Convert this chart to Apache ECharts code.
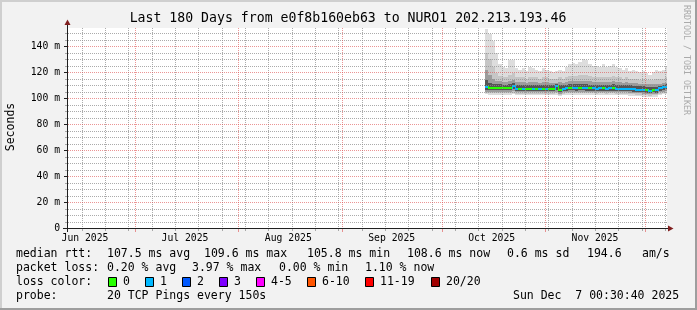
<!DOCTYPE html>
<html><head><meta charset="utf-8">
<script src="https://cdn.jsdelivr.net/npm/echarts@6/dist/echarts.min.js"></script>
<style>html,body{margin:0;padding:0;background:#f2f2f2}#c{width:697px;height:310px}</style>
</head><body><div id="c"></div><script>
// x values are days since 2025-06-01 (local time)
const X_MIN = 9.6, X_MAX = 189.6;
const Y_MIN = 0, Y_MAX = 154;
const monthStarts = [30, 61, 92, 122, 153, 183];
const monthLabelPos = [15, 45, 76, 107, 137, 168];
const monthLabels = ['Jun 2025', 'Jul 2025', 'Aug 2025', 'Sep 2025', 'Oct 2025', 'Nov 2025'];
const weekStarts = [14, 21, 28, 35, 42, 49, 56, 63, 70, 77, 84, 91, 98, 105, 112, 119, 126, 133, 140, 147, 154, 161, 168, 175, 182, 189];
const yMajorTicks = [0, 20, 40, 60, 80, 100, 120, 140];
const yMinorTicks = [5, 10, 15, 25, 30, 35, 45, 50, 55, 65, 70, 75, 85, 90, 95, 105, 110, 115, 125, 130, 135, 145, 150];

// daily data (ms)
const days = [135,136,137,138,139,140,141,142,143,144,145,146,147,148,149,150,151,152,153,154,155,156,157,158,159,160,161,162,163,164,165,166,167,168,169,170,171,172,173,174,175,176,177,178,179,180,181,182,183,184,185,186,187,188,189];
const pingMax = [153,149,144,135,126,124,123,129,129,123,122,123,121,124,123,122,121,123,122,121,120,121,122,121,124,126,127,126,128,130,129,126,125,125,124,126,124,125,126,124,123,122,123,121,122,121,120,121,119,118,120,122,121,122,124];
const pingHi2 = [135,130,124,119,117,116,116,118,119,116,116,116,115,116,116,116,115,116,116,115,115,115,116,115,116,117,117,117,118,118,118,117,116,116,116,116,116,116,117,116,116,115,116,115,115,115,114,115,114,114,114,115,115,115,116];
const pingHi3 = [122,118,115,113.5,113,112.5,112.5,113.5,114,112.5,112.5,112.5,112,112.5,112.5,112.5,112,112.5,112.5,112,112,112,112.5,112,112.5,113,113,113,113.5,113.5,113.5,113,112.5,112.5,112.5,112.5,112.5,112.5,113,112.5,112.5,112,112.5,112,112,111.5,111,111,110.5,110.5,110.5,111,111,111.5,112];
const pingHi4 = [114,112,111,110.5,110.5,110.3,110.3,111,112,110.3,110.3,110.3,110,110.3,110.3,110.3,110,110.3,110.3,110,110,110.5,110,110,110.3,110.5,110.5,110.5,110.5,110.5,110.5,110.3,110.3,110.3,110.3,110.3,110.3,110.3,110.5,110.3,110.3,110,110,110,109.5,109.3,109,109,108.5,108.3,108.5,108.5,109.3,110.3,111];
const median = [108.2,108,107.9,107.8,107.8,107.8,107.8,107.8,109.5,107.4,107.3,107.4,107.3,107.4,107.3,107.4,107.3,107.4,107.3,107.4,107.3,109,106.3,107.4,107.5,107.6,107.6,107.5,107.6,107.6,107.5,107.5,107.5,107.4,107.5,107.5,107.4,107.5,107.5,107.4,107.4,107.3,107.3,107,106.8,106.6,106.5,106.3,106,105.8,106.3,106,107.5,108.2,108.6];
const pingLo4 = [106.3,106.2,106.1,106,106,106,106,106,107,105.7,105.6,105.7,105.6,105.7,105.6,105.7,105.6,105.7,105.6,105.7,105.6,106.5,104.8,105.7,105.8,105.9,105.9,105.8,105.9,105.9,105.8,105.8,105.8,105.7,105.8,105.8,105.7,105.8,105.8,105.7,105.7,105.6,105.6,105.3,105.1,104.9,104.8,104.6,104.3,104.1,104.6,104.3,105.6,106.3,106.8];
const pingLo3 = [105,104.9,104.8,104.8,104.8,104.8,104.8,104.8,105.5,104.5,104.4,104.5,104.4,104.5,104.4,104.5,104.4,104.5,104.4,104.5,104.4,105,103.5,104.5,104.6,104.7,104.7,104.6,104.7,104.7,104.6,104.6,104.6,104.5,104.6,104.6,104.5,104.6,104.6,104.5,104.5,104.4,104.4,104.1,103.9,103.7,103.6,103.4,103.1,102.9,103.4,103.1,104.4,105,105.5];
const pingLo2 = [104,103.9,103.8,103.8,103.8,103.8,103.8,103.8,104.3,103.5,103.4,103.5,103.4,103.5,103.4,103.5,103.4,103.5,103.4,103.5,103.4,103.8,102.6,103.5,103.6,103.7,103.7,103.6,103.7,103.7,103.6,103.6,103.6,103.5,103.6,103.6,103.5,103.6,103.6,103.5,103.5,103.4,103.4,103.1,102.9,102.7,102.6,102.4,102.1,101.9,102.4,102.1,103.4,104,104.5];
const pingMin = [102.8,102.7,102.6,102.6,102.6,102.6,102.6,102.6,103,102.3,102.2,102.3,102.2,102.3,102.2,102.3,102.2,102.3,102.2,102.3,102.2,102.5,101.5,102.3,102.4,102.5,102.5,102.4,102.5,102.5,102.4,102.4,102.4,102.3,102.4,102.4,102.3,102.4,102.4,102.3,102.3,102.2,102.2,101.9,101.7,101.5,101.4,101.2,100.9,100.7,101.2,100.9,102.2,102.8,103.3];
const lossClass = [1,0,0,0,0,0,0,0,1,1,0,1,0,0,1,0,1,0,1,0,0,1,0,1,1,0,1,1,0,1,1,0,1,1,1,0,1,1,0,1,1,1,1,1,1,1,1,1,0,1,0,1,1,1,1];

const lossColors = ['#26ff00', '#00b8ff', '#0059ff', '#7e00ff', '#ff00ff', '#ff5500', '#ff0000', '#a10000'];
const lossLabels = ['0', '1', '2', '3', '4-5', '6-10', '11-19', '20/20'];
const smokeColors = ['#dddddd', '#c6c6c6', '#9c9c9c', '#555555'];

const smokeData = days.map((d, i) => [d, pingMax[i], pingMin[i], pingHi2[i], pingLo2[i], pingHi3[i], pingLo3[i], pingHi4[i], pingLo4[i]]);
const medData = days.map((d, i) => [d, median[i], i > 0 ? median[i - 1] : median[i], lossClass[i]]);

const MONO = 'DejaVu Sans Mono';
const GRID_C = 'rgba(143,143,143,0.75)';
const MGRID_C = 'rgba(222,79,79,0.6)';

function smokeItem(params, api) {
  const d = api.value(0);
  const x0 = Math.round(api.coord([d, 0])[0]);
  const x1 = Math.round(api.coord([d + 1, 0])[0]);
  const ch = [];
  for (let b = 0; b < 4; b++) {
    const yt = Math.round(api.coord([d, api.value(1 + 2 * b)])[1]);
    const yb = Math.round(api.coord([d, api.value(2 + 2 * b)])[1]);
    ch.push({ type: 'rect', shape: { x: x0, y: yt, width: x1 - x0, height: Math.max(1, yb - yt) }, style: { fill: smokeColors[b] } });
  }
  return { type: 'group', children: ch };
}
function medItem(params, api) {
  const d = api.value(0);
  const x0 = Math.round(api.coord([d, 0])[0]);
  const x1 = Math.round(api.coord([d + 1, 0])[0]);
  const y = Math.round(api.coord([d, api.value(1)])[1]);
  const yp = Math.round(api.coord([d, api.value(2)])[1]);
  const col = lossColors[api.value(3)];
  const ch = [{ type: 'rect', shape: { x: x0, y: y - 1, width: x1 - x0, height: 2 }, style: { fill: col } }];
  if (yp !== y) {
    ch.push({ type: 'rect', shape: { x: x0, y: Math.min(y, yp) - 1, width: 1, height: Math.abs(y - yp) + 2 }, style: { fill: col } });
  }
  return { type: 'group', children: ch };
}
// dotted grid lines drawn as 1px pixel dots (crisp)
function vLine(color, tickLen) {
  return function (params, api) {
    const cs = params.coordSys;
    const X = Math.round(api.coord([api.value(0), 0])[0]);
    const top = Math.round(cs.y), bottom = Math.round(cs.y + cs.height);
    const ch = [];
    for (let y = top; y < bottom; y += 2) ch.push({ type: 'rect', shape: { x: X, y: y, width: 1, height: 1 }, style: { fill: color } });
    ch.push({ type: 'rect', shape: { x: X, y: bottom + 1, width: 1, height: tickLen }, style: { fill: color } });
    return { type: 'group', children: ch };
  };
}
function hLine(color, tickColor, tickLen) {
  return function (params, api) {
    const cs = params.coordSys;
    const v = api.value(1);
    const Y = Math.round(api.coord([X_MIN, v])[1]);
    const left = Math.round(cs.x), right = Math.round(cs.x + cs.width);
    const ch = [{ type: 'rect', shape: { x: left - tickLen, y: Y, width: tickLen, height: 1 }, style: { fill: tickColor } }];
    if (v > 0) for (let x = left + 1; x < right; x += 2) ch.push({ type: 'rect', shape: { x: x, y: Y, width: 1, height: 1 }, style: { fill: color } });
    return { type: 'group', children: ch };
  };
}

const TXT = '11.5px "DejaVu Sans Mono"';
const legendRows = [
  { y: 254, items: [[16, 'median rtt:'], [107, '107.5 ms avg'], [204, '109.6 ms max'], [307, '105.8 ms min'], [407, '108.6 ms now'], [507, '0.6 ms sd'], [587, '194.6'], [642, 'am/s']] },
  { y: 268, items: [[16, 'packet loss:'], [107, '0.20 % avg'], [192, '3.97 % max'], [279, '0.00 % min'], [365, '1.10 % now']] },
  { y: 296, items: [[16, 'probe:'], [107, '20 TCP Pings every 150s'], [513, 'Sun Dec  7 00:30:40 2025']] }
];
const lossBoxX = [108, 145, 182, 219, 256, 307, 365, 431];

const graphics = [
  { type: 'rect', shape: { x: 0, y: 0, width: 697, height: 2 }, style: { fill: '#cfcfcf' }, silent: true },
  { type: 'rect', shape: { x: 0, y: 0, width: 2, height: 310 }, style: { fill: '#cfcfcf' }, silent: true },
  { type: 'rect', shape: { x: 0, y: 308, width: 697, height: 2 }, style: { fill: '#9e9e9e' }, silent: true },
  { type: 'rect', shape: { x: 695, y: 0, width: 2, height: 310 }, style: { fill: '#9e9e9e' }, silent: true },
  { type: 'text', x: 348, y: 19, style: { text: 'Last 180 Days from e0f8b160eb63 to NURO1 202.213.193.46', font: '13.2px "DejaVu Sans Mono"', fill: '#000', align: 'center', verticalAlign: 'middle' } },
  { type: 'text', x: 686, y: 60, rotation: -Math.PI / 2, style: { text: 'RRDTOOL / TOBI OETIKER', font: '8.3px "DejaVu Sans Mono"', fill: '#aaaaaa', align: 'center', verticalAlign: 'middle' } },
  { type: 'text', x: 11, y: 127, rotation: Math.PI / 2, style: { text: 'Seconds', font: TXT, fill: '#000', align: 'center', verticalAlign: 'middle' } },
  // axis lines and arrows
  { type: 'rect', z: 10, shape: { x: 67, y: 24, width: 1, height: 208 }, style: { fill: '#1f1f1f' } },
  { type: 'polygon', z: 10, shape: { points: [[64.5, 25], [70.5, 25], [67.5, 19.5]] }, style: { fill: '#801f1f' } },
  { type: 'rect', z: 10, shape: { x: 63, y: 228, width: 607, height: 1 }, style: { fill: '#1f1f1f' } },
  { type: 'polygon', z: 10, shape: { points: [[668, 225.5], [668, 231.5], [673.5, 228.5]] }, style: { fill: '#801f1f' } }
];
legendRows.forEach(r => r.items.forEach(([x, t]) => graphics.push({ type: 'text', x: x, y: r.y, style: { text: t, font: TXT, fill: '#000', verticalAlign: 'middle' } })));
graphics.push({ type: 'text', x: 16, y: 282, style: { text: 'loss color:', font: TXT, fill: '#000', verticalAlign: 'middle' } });
lossBoxX.forEach((x, i) => {
  graphics.push({ type: 'rect', shape: { x: x + 0.5, y: 277.5, width: 8, height: 9 }, style: { fill: lossColors[i], stroke: '#000', lineWidth: 1 } });
  graphics.push({ type: 'text', x: x + 15, y: 282, style: { text: lossLabels[i], font: TXT, fill: '#000', verticalAlign: 'middle' } });
});

const option = {
  animation: false,
  backgroundColor: '#f2f2f2',
  grid: { left: 67, right: 30, top: 28, bottom: 82, show: true, backgroundColor: '#ffffff', borderWidth: 0 },
  xAxis: {
    type: 'value', min: X_MIN, max: X_MAX, position: 'bottom',
    axisLine: { show: false }, axisTick: { show: false }, splitLine: { show: false },
    axisLabel: { show: true, customValues: monthLabelPos, formatter: v => monthLabels[monthLabelPos.indexOf(v)], fontFamily: MONO, fontSize: 9.75, color: '#000', margin: 5 }
  },
  yAxis: {
    type: 'value', min: Y_MIN, max: Y_MAX,
    axisLine: { show: false }, axisTick: { show: false }, splitLine: { show: false },
    axisLabel: { customValues: yMajorTicks, formatter: v => v === 0 ? '0' : v + ' m', fontFamily: MONO, fontSize: 9.75, color: '#000', margin: 7 }
  },
  graphic: graphics,
  series: [
    { type: 'custom', name: 'smoke', z: 2, renderItem: smokeItem, data: smokeData, clip: true, encode: { x: 0, y: [1, 2] } },
    { type: 'custom', name: 'median', z: 3, renderItem: medItem, data: medData, clip: true, encode: { x: 0, y: 1 } },
    { type: 'custom', name: 'weekGrid', z: 4, silent: true, renderItem: vLine(GRID_C, 2), data: weekStarts.map(v => [v, 0]), clip: false, encode: { x: 0, y: 1 } },
    { type: 'custom', name: 'monthGrid', z: 5, silent: true, renderItem: vLine(MGRID_C, 3), data: monthStarts.map(v => [v, 0]), clip: false, encode: { x: 0, y: 1 } },
    { type: 'custom', name: 'yMinorGrid', z: 4, silent: true, renderItem: hLine(GRID_C, GRID_C, 2), data: yMinorTicks.map(v => [X_MIN, v]), clip: false, encode: { x: 0, y: 1 } },
    { type: 'custom', name: 'yMajorGrid', z: 5, silent: true, renderItem: hLine(MGRID_C, '#1f1f1f', 3), data: yMajorTicks.map(v => [X_MIN, v]), clip: false, encode: { x: 0, y: 1 } }
  ]
};
const chart = echarts.init(document.getElementById('c'), null, { renderer: 'canvas' });
chart.setOption(option);
</script></body></html>
